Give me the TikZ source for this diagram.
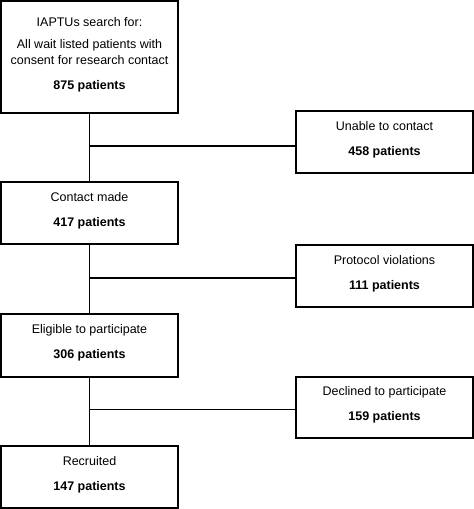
\documentclass[tikz,border=0pt]{standalone}
\usepackage{fontspec}
\setmainfont{Liberation Sans}
\begin{document}
\begin{tikzpicture}[x=1pt,y=1pt,
  box/.style={draw, line width=1.2pt, minimum width=177pt, inner sep=0pt, align=center,
    font=\fontsize{12.5}{16}\selectfont, text depth=8pt},
  link/.style={line width=1.2pt}]
\useasboundingbox (0,0) rectangle (474,-509);
\node[box, minimum height=112pt] (search) at (89.5,-57)
  {IAPTUs search for:\\[6pt]All wait listed patients with\\consent for research contact\\[9pt]\textbf{875 patients}};
\node[box, minimum height=62pt] (unable) at (384.5,-142) {Unable to contact\\[9pt]\textbf{458 patients}};
\node[box, minimum height=62pt] (contact) at (89.5,-213) {Contact made\\[9pt]\textbf{417 patients}};
\node[box, minimum height=62pt] (protocol) at (384.5,-276) {Protocol violations\\[9pt]\textbf{111 patients}};
\node[box, minimum height=63pt] (eligible) at (89.5,-345.5) {Eligible to participate\\[9pt]\textbf{306 patients}};
\node[box, minimum height=61pt] (declined) at (384.5,-407.5) {Declined to participate\\[9pt]\textbf{159 patients}};
\node[box, minimum height=62pt] (recruited) at (89.5,-477) {Recruited\\[9pt]\textbf{147 patients}};
\draw[link] (search) -- (contact);
\draw[link] ([yshift=-4pt]unable.west -| search.south) -- ([yshift=-4pt]unable.west);
\draw[link] (contact) -- (eligible);
\draw[link] ([yshift=-2pt]protocol.west -| contact.south) -- ([yshift=-2pt]protocol.west);
\draw[link] (eligible) -- (recruited);
\draw[link] ([yshift=-2pt]declined.west -| eligible.south) -- ([yshift=-2pt]declined.west);
\end{tikzpicture}
\end{document}
